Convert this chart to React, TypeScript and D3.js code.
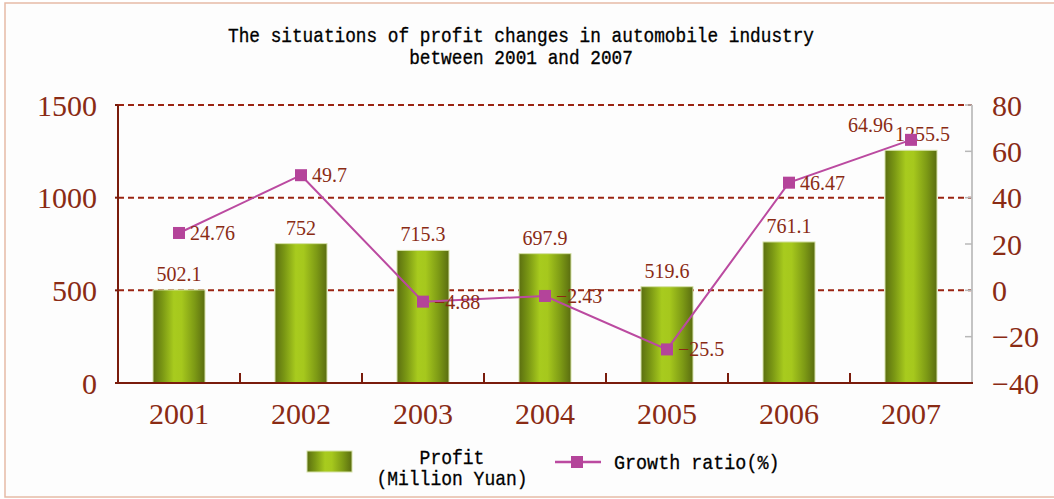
import React from "react";
import * as d3 from "d3";

const years = ["2001", "2002", "2003", "2004", "2005", "2006", "2007"];
const profit = [502.1, 752, 715.3, 697.9, 519.6, 761.1, 1255.5];
const profitLabels = ["502.1", "752", "715.3", "697.9", "519.6", "761.1", "1255.5"];
const growth = [24.76, 49.7, -4.88, -2.43, -25.5, 46.47, 64.96];
const growthLabels = ["24.76", "49.7", "\u22124.88", "\u22122.43", "\u221225.5", "46.47", "64.96"];
const leftTicks = [0, 500, 1000, 1500];
const rightTicks = [-40, -20, 0, 20, 40, 60, 80];
const gridValues = [500, 1000, 1500];
const titleLines = [
  "The situations of profit changes in automobile industry",
  "between 2001 and 2007",
];

const W = 1054;
const H = 499;
const M = { left: 118, right: 972, top: 105, bottom: 383 };
const AXIS_RED = "#8a2b14";
const GRID_RED = "#9a2412";
const LINE_PINK = "#bb4aa0";
const MARK_PINK = "#b4449a";
const SERIF = "'Liberation Serif', 'DejaVu Serif', serif";
const MONO = "'Liberation Mono', 'DejaVu Sans Mono', monospace";

function fmtTick(v: number) {
  return v < 0 ? "\u2212" + Math.abs(v) : String(v);
}

export default function App() {
  const x = d3.scaleBand<string>().domain(years).range([M.left, M.right]).paddingInner(0).paddingOuter(0);
  const yL = d3.scaleLinear().domain([0, 1500]).range([M.bottom, M.top]);
  const yR = d3.scaleLinear().domain([-40, 80]).range([M.bottom, M.top]);
  const bw = 52;
  const cx = (i: number) => (x(years[i]) as number) + x.bandwidth() / 2;
  const lastIdx = years.length - 1;

  const line = d3
    .line<number>()
    .x((_, i) => cx(i))
    .y((d) => yR(d));

  const boundaries = years.slice(1).map((yr) => x(yr) as number);

  return (
    <svg
      width={W}
      height={H}
      style={{ position: "absolute", left: 0, top: 0, display: "block" }}
    >
      <defs>
        <linearGradient id="barGrad" x1="0" x2="1" y1="0" y2="0">
          <stop offset="0%" stopColor="#5b6f10" />
          <stop offset="18%" stopColor="#7a9714" />
          <stop offset="40%" stopColor="#a8cb1e" />
          <stop offset="55%" stopColor="#a6c81d" />
          <stop offset="80%" stopColor="#7d9a15" />
          <stop offset="100%" stopColor="#5a6d10" />
        </linearGradient>
      </defs>
      <rect x={0} y={0} width={W} height={H} fill="#ffffff" />
      <rect x={5} y={3} width={W + 20} height={H - 5} fill="#fdfdfd" stroke="#e6bba6" strokeWidth={1.5} />

      {/* title */}
      {titleLines.map((t, i) => (
        <text
          key={t}
          transform={`translate(521,${42 + i * 22}) scale(0.846,1)`}
          textAnchor="middle"
          fontFamily={MONO}
          fontSize={21}
          fill="#000"
          stroke="#000"
          strokeWidth={0.35}
        >
          {t}
        </text>
      ))}

      {/* gridlines */}
      {gridValues.map((v) => (
        <line
          key={v}
          x1={M.left}
          x2={M.right}
          y1={yL(v)}
          y2={yL(v)}
          stroke={GRID_RED}
          strokeWidth={2}
          strokeDasharray="6,4"
        />
      ))}

      {/* bars */}
      {profit.map((v, i) => (
        <g key={years[i]}>
          <rect
            x={cx(i) - bw / 2}
            y={yL(v)}
            width={bw}
            height={yL(0) - yL(v)}
            fill="url(#barGrad)"
            stroke="#d6e2a8"
            strokeWidth={1}
          />
          <text
            x={i === lastIdx ? cx(i) - 16 : cx(i)}
            y={yL(v) - 9}
            textAnchor={i === lastIdx ? "start" : "middle"}
            fontFamily={SERIF}
            fontSize={20}
            fill={AXIS_RED}
          >
            {profitLabels[i]}
          </text>
        </g>
      ))}

      {/* left axis */}
      <line x1={M.left} x2={M.left} y1={M.top} y2={M.bottom} stroke="#7a1c0c" strokeWidth={2} />
      {leftTicks.map((v) => (
        <g key={v}>
          <line x1={M.left - 3} x2={M.left} y1={yL(v)} y2={yL(v)} stroke="#7a1c0c" strokeWidth={2} />
          <text
            x={97}
            y={yL(v)}
            dy="0.35em"
            textAnchor="end"
            fontFamily={SERIF}
            fontSize={30}
            fill={AXIS_RED}
          >
            {v}
          </text>
        </g>
      ))}

      {/* right axis */}
      <line x1={M.right} x2={M.right} y1={M.top} y2={M.bottom} stroke="#c4c4c4" strokeWidth={2} />
      {rightTicks.map((v) => (
        <g key={v}>
          <line x1={M.right - 7} x2={M.right} y1={yR(v)} y2={yR(v)} stroke="#b8b8b8" strokeWidth={1.5} />
          <text
            x={992}
            y={yR(v)}
            dy="0.35em"
            textAnchor="start"
            fontFamily={SERIF}
            fontSize={30}
            fill={AXIS_RED}
          >
            {fmtTick(v)}
          </text>
        </g>
      ))}

      {/* x axis */}
      <line x1={M.left} x2={M.right + 1} y1={M.bottom} y2={M.bottom} stroke="#7a1c0c" strokeWidth={2} />
      {boundaries.map((b) => (
        <line key={b} x1={b} x2={b} y1={M.bottom - 10} y2={M.bottom} stroke="#7a1c0c" strokeWidth={2} />
      ))}
      {years.map((yr, i) => (
        <text
          key={yr}
          x={cx(i)}
          y={424}
          textAnchor="middle"
          fontFamily={SERIF}
          fontSize={30}
          fill={AXIS_RED}
        >
          {yr}
        </text>
      ))}

      {/* growth line */}
      <path d={line(growth) || ""} fill="none" stroke={LINE_PINK} strokeWidth={2} />
      {growth.map((v, i) => (
        <rect
          key={years[i]}
          x={cx(i) - 6}
          y={yR(v) - 6}
          width={12}
          height={12}
          fill={MARK_PINK}
        />
      ))}
      {growth.map((v, i) => {
        const last = i === lastIdx;
        return (
          <text
            key={years[i]}
            x={last ? cx(i) - 18 : cx(i) + 11}
            y={last ? yR(v) - 15 : yR(v)}
            dy="0.35em"
            textAnchor={last ? "end" : "start"}
            fontFamily={SERIF}
            fontSize={20}
            fill={AXIS_RED}
          >
            {growthLabels[i]}
          </text>
        );
      })}

      {/* legend */}
      <rect x={307} y={451} width={45} height={21} fill="url(#barGrad)" stroke="#d6e2a8" strokeWidth={1} />
      <text transform="translate(452,464) scale(0.9,1)" textAnchor="middle" fontFamily={MONO} fontSize={20} fill="#000" stroke="#000" strokeWidth={0.3}>
        Profit
      </text>
      <text transform="translate(452,485) scale(0.9,1)" textAnchor="middle" fontFamily={MONO} fontSize={20} fill="#000" stroke="#000" strokeWidth={0.3}>
        (Million Yuan)
      </text>
      <line x1={555} x2={601} y1={462} y2={462} stroke={LINE_PINK} strokeWidth={2.5} />
      <rect x={571} y={456} width={12} height={12} fill={MARK_PINK} />
      <text transform="translate(614,469) scale(0.92,1)" textAnchor="start" fontFamily={MONO} fontSize={20} fill="#000" stroke="#000" strokeWidth={0.3}>
        Growth ratio(%)
      </text>
    </svg>
  );
}
